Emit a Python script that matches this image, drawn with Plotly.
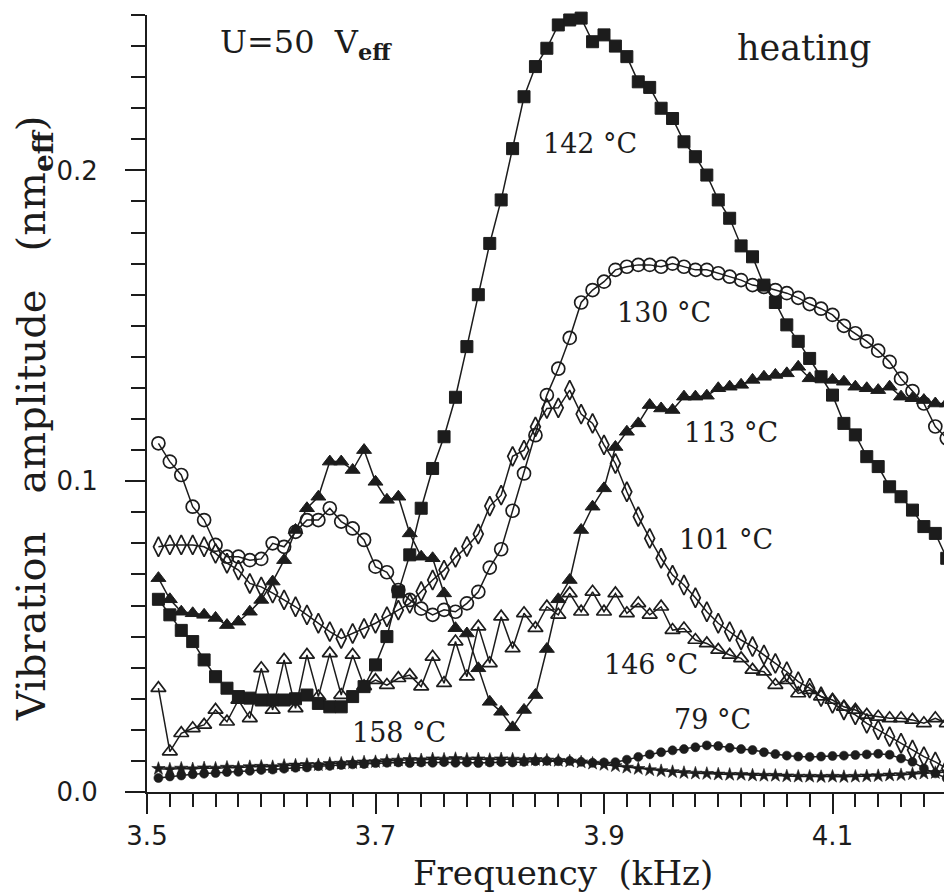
import plotly.graph_objects as go

# Frequency grid (kHz)
freq = [3.51, 3.52, 3.53, 3.54, 3.55, 3.56, 3.57, 3.58, 3.59, 3.60,
        3.61, 3.62, 3.63, 3.64, 3.65, 3.66, 3.67, 3.68, 3.69, 3.70,
        3.71, 3.72, 3.73, 3.74, 3.75, 3.76, 3.77, 3.78, 3.79, 3.80,
        3.81, 3.82, 3.83, 3.84, 3.85, 3.86, 3.87, 3.88, 3.89, 3.90,
        3.91, 3.92, 3.93, 3.94, 3.95, 3.96, 3.97, 3.98, 3.99, 4.00,
        4.01, 4.02, 4.03, 4.04, 4.05, 4.06, 4.07, 4.08, 4.09, 4.10,
        4.11, 4.12, 4.13, 4.14, 4.15, 4.16, 4.17, 4.18, 4.19, 4.20]

amp_142 = [0.062, 0.057, 0.052, 0.0484, 0.0425, 0.0371, 0.0334, 0.0307, 0.0302, 0.0296,
           0.0296, 0.0296, 0.0300, 0.0312, 0.0285, 0.0274, 0.0274, 0.0307, 0.0339, 0.0409,
           0.0500, 0.0644, 0.0763, 0.0913, 0.1041, 0.1143, 0.127, 0.1433, 0.160, 0.1765,
           0.1905, 0.207, 0.2237, 0.2334, 0.2393, 0.2468, 0.2484, 0.249, 0.2414, 0.2436,
           0.240, 0.2366, 0.2285, 0.2267, 0.220, 0.2167, 0.2092, 0.2044, 0.1985, 0.1905,
           0.1846, 0.1757, 0.1722, 0.1631, 0.1575, 0.1503, 0.1450, 0.1395, 0.1336, 0.1277,
           0.1186, 0.1149, 0.1079, 0.1047, 0.0982, 0.0950, 0.0907, 0.0854, 0.0832, 0.0752]

amp_130 = [0.1122, 0.1063, 0.102, 0.0918, 0.0875, 0.0795, 0.0757, 0.0757, 0.0746, 0.075,
           0.080, 0.0789, 0.0837, 0.0875, 0.0875, 0.0913, 0.087, 0.0848, 0.0811, 0.0725,
           0.0707, 0.065, 0.0618, 0.059, 0.057, 0.0586, 0.058, 0.0607, 0.0644, 0.0722,
           0.0781, 0.0905, 0.1025, 0.1148, 0.1277, 0.1362, 0.1461, 0.1575, 0.1615, 0.1642,
           0.168, 0.169, 0.1696, 0.1696, 0.169, 0.170, 0.169, 0.168, 0.168, 0.1669,
           0.1658, 0.1647, 0.1631, 0.1625, 0.1615, 0.1605, 0.159, 0.157, 0.1555, 0.1535,
           0.150, 0.1476, 0.145, 0.142, 0.1384, 0.133, 0.129, 0.125, 0.1176, 0.1138]

amp_113 = [0.0688, 0.062, 0.058, 0.0575, 0.057, 0.056, 0.0537, 0.0548, 0.058, 0.0618,
           0.0677, 0.0746, 0.0843, 0.0913, 0.095, 0.1063, 0.1063, 0.1036, 0.110, 0.0998,
           0.094, 0.095, 0.0832, 0.0757, 0.0752, 0.0639, 0.0527, 0.051, 0.0398, 0.029,
           0.0258, 0.0208, 0.0264, 0.0312, 0.0460, 0.0620, 0.0682, 0.0843, 0.0918, 0.0977,
           0.111, 0.1159, 0.1186, 0.1245, 0.1234, 0.1229, 0.1272, 0.1272, 0.1275, 0.1299,
           0.1304, 0.131, 0.1326, 0.1336, 0.1342, 0.1347, 0.1368, 0.1331, 0.1331, 0.1326,
           0.132, 0.1304, 0.1299, 0.1293, 0.1304, 0.1272, 0.1267, 0.1261, 0.125, 0.125]

amp_101 = [0.0789, 0.0795, 0.0795, 0.0795, 0.0789, 0.0768, 0.0736, 0.0714, 0.0671, 0.066,
           0.064, 0.0618, 0.0596, 0.057, 0.0543, 0.0516, 0.0494, 0.051, 0.0526, 0.0543,
           0.0564, 0.0585, 0.0607, 0.0645, 0.0682, 0.0714, 0.0755, 0.079, 0.083, 0.092,
           0.0955, 0.108, 0.110, 0.1175, 0.1234, 0.1236, 0.1293, 0.1216, 0.1186, 0.1117,
           0.1057, 0.0966, 0.0886, 0.0816, 0.0752, 0.0698, 0.0666, 0.0625, 0.058, 0.0543,
           0.0516, 0.0489, 0.0468, 0.0441, 0.0414, 0.0387, 0.0355, 0.0334, 0.0307, 0.0285,
           0.0264, 0.0248, 0.0221, 0.020, 0.0178, 0.0157, 0.0135, 0.0114, 0.0097, 0.0076]

amp_146 = [0.0334, 0.013, 0.0189, 0.0205, 0.0216, 0.0264, 0.0226, 0.0296, 0.0237, 0.0398,
           0.0264, 0.0425, 0.0269, 0.0441, 0.0307, 0.0446, 0.0312, 0.0441, 0.034, 0.036,
           0.0344, 0.0366, 0.0376, 0.0339, 0.0435, 0.035, 0.0484, 0.0371, 0.0532, 0.0414,
           0.0564, 0.0462, 0.0575, 0.0527, 0.0596, 0.057, 0.0639, 0.058, 0.0644, 0.058,
           0.0639, 0.0575, 0.0607, 0.057, 0.0596, 0.0521, 0.0526, 0.0489, 0.0478, 0.0457,
           0.0441, 0.043, 0.0393, 0.0387, 0.0344, 0.036, 0.0317, 0.0328, 0.0307, 0.0296,
           0.0274, 0.0264, 0.0248, 0.0242, 0.0237, 0.0237, 0.0232, 0.0221, 0.0237, 0.0221]

amp_158 = [0.0075, 0.0073, 0.0076, 0.0074, 0.0077, 0.0076, 0.0079, 0.0078, 0.0081, 0.0082,
           0.0081, 0.0085, 0.0086, 0.0088, 0.0087, 0.0091, 0.0092, 0.0094, 0.0096, 0.0097,
           0.0100, 0.0102, 0.0104, 0.0103, 0.0106, 0.0105, 0.0107, 0.0105, 0.0106, 0.0104,
           0.0106, 0.0105, 0.0103, 0.0104, 0.0102, 0.0101, 0.0099, 0.0096, 0.0092, 0.0088,
           0.0084, 0.0079, 0.0075, 0.0071, 0.0068, 0.0065, 0.0062, 0.0060, 0.0059, 0.0057,
           0.0056, 0.0056, 0.0054, 0.0053, 0.0053, 0.0051, 0.0050, 0.0050, 0.0049, 0.0050,
           0.0049, 0.0050, 0.0051, 0.0052, 0.0054, 0.0055, 0.0058, 0.0060, 0.0062, 0.0064]

amp_79 = [0.0045, 0.0050, 0.0053, 0.0057, 0.0059, 0.0061, 0.0064, 0.0065, 0.0068, 0.0071,
          0.0072, 0.0075, 0.0078, 0.0079, 0.0083, 0.0084, 0.0087, 0.0089, 0.0090, 0.0093,
          0.0094, 0.0095, 0.0093, 0.0095, 0.0094, 0.0096, 0.0094, 0.0095, 0.0093, 0.0095,
          0.0096, 0.0095, 0.0097, 0.0099, 0.0100, 0.0099, 0.0100, 0.0097, 0.0094, 0.0095,
          0.0096, 0.0104, 0.0113, 0.0121, 0.0128, 0.0134, 0.0138, 0.0144, 0.0150, 0.0148,
          0.0142, 0.0138, 0.0135, 0.0128, 0.0122, 0.0117, 0.0114, 0.0113, 0.0114, 0.0116,
          0.0117, 0.0119, 0.0121, 0.0123, 0.0120, 0.0108, 0.0097, 0.0076, 0.0060, 0.0044]

INK = "#1c1c1c"
SERIF = "DejaVu Serif"

series = [
    (amp_158, "158 °C", "star", 10, 0.6),
    (amp_79, "79 °C", "circle", 9, 0.6),
    (amp_146, "146 °C", "triangle-up-open", 13, 1.7),
    (amp_101, "101 °C", "diamond-tall-open", 14, 1.7),
    (amp_113, "113 °C", "triangle-up", 13, 1.0),
    (amp_130, "130 °C", "circle-open", 13, 1.7),
    (amp_142, "142 °C", "square", 12, 1.0),
]

fig = go.Figure()
for ys, name, sym, size, lw in series:
    fig.add_trace(go.Scatter(
        x=freq, y=ys, name=name, mode="lines+markers",
        line=dict(color=INK, width=1.5),
        marker=dict(symbol=sym, size=size, color=INK, line=dict(color=INK, width=lw)),
        cliponaxis=False, showlegend=False,
    ))

labels = [
    (3.8449, 0.2088, "142 °C"),
    (3.9096, 0.1544, "130 °C"),
    (3.9683, 0.1158, "113 °C"),
    (3.9639, 0.0814, "101 °C"),
    (3.8983, 0.0409, "146 °C"),
    (3.9595, 0.0232, "79 °C"),
    (3.6777, 0.0193, "158 °C"),
]
for lx, ly, txt in labels:
    fig.add_annotation(x=lx, y=ly, text=txt, showarrow=False, xanchor="left",
                       yanchor="middle", font=dict(family=SERIF, size=27, color=INK))

fig.add_annotation(x=3.5621, y=0.2407, text="U=50  V<sub><b>eff</b></sub>", showarrow=False,
                   xanchor="left", yanchor="middle", font=dict(family=SERIF, size=32, color=INK))
fig.add_annotation(x=4.0147, y=0.2395, text="heating", showarrow=False,
                   xanchor="left", yanchor="middle", font=dict(family=SERIF, size=35, color=INK))

# axis titles
fig.add_annotation(xref="paper", yref="paper", x=0.5168, y=-0.1042, text="Frequency  (kHz)",
                   showarrow=False, xanchor="center", yanchor="middle",
                   font=dict(family=SERIF, size=34, color=INK))
fig.add_annotation(xref="paper", yref="paper", x=-0.1404, y=0.4813,
                   text="Vibration   amplitude   (nm<sub><b>eff</b></sub>)", textangle=-90,
                   showarrow=False, xanchor="center", yanchor="middle",
                   font=dict(family=SERIF, size=40, color=INK))

fig.update_xaxes(range=[3.5, 4.2046], tick0=3.5, dtick=0.2, tickformat=".1f",
                 showline=True, linecolor=INK, linewidth=2, showgrid=False, zeroline=False,
                 ticks="outside", ticklen=20, tickwidth=2, tickcolor=INK,
                 tickfont=dict(family="DejaVu Sans", size=26, color=INK),
                 minor=dict(dtick=0.02, tick0=3.5, ticks="outside", ticklen=13, tickwidth=2,
                            tickcolor=INK, showgrid=False))
fig.update_yaxes(range=[0, 0.25], tick0=0, dtick=0.1, tickformat=".1f",
                 showline=True, linecolor=INK, linewidth=2, showgrid=False, zeroline=False,
                 ticks="outside", ticklen=20, tickwidth=2, tickcolor=INK,
                 ticklabelstandoff=22,
                 tickfont=dict(family="DejaVu Sans", size=26, color=INK),
                 minor=dict(dtick=0.01, tick0=0, ticks="outside", ticklen=14, tickwidth=2,
                            tickcolor=INK, showgrid=False))

# page body adds an 8 px offset; margins compensate so the plot area lands where the reference has it
fig.update_layout(width=952, height=892, margin=dict(l=139, r=8, t=7, b=108),
                  paper_bgcolor="white", plot_bgcolor="white")

fig.write_html("out.html")
